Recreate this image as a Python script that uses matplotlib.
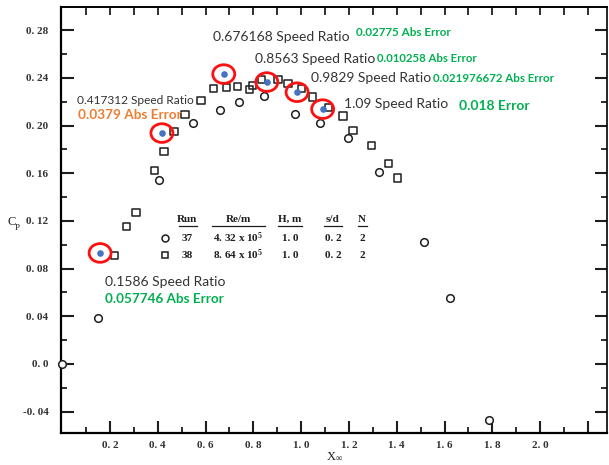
import numpy as np
import matplotlib
matplotlib.use('Agg')
import matplotlib.pyplot as plt
from matplotlib.lines import Line2D
from matplotlib.path import Path
from matplotlib.transforms import Affine2D

# Measured power coefficient, run 37 (circles) and run 38 (squares)
run37_x = [0.0, 0.150, 0.405, 0.547, 0.660, 0.740, 0.845, 0.974, 1.079, 1.196, 1.326, 1.514, 1.622, 1.787]
run37_cp = [0.0, 0.0386, 0.154, 0.202, 0.213, 0.220, 0.225, 0.2096, 0.202, 0.1895, 0.161, 0.102, 0.055, -0.047]

run38_x = [0.217, 0.271, 0.309, 0.388, 0.426, 0.468, 0.514, 0.581, 0.635, 0.686, 0.732, 0.782, 0.795,
           0.836, 0.903, 0.945, 1.000, 1.046, 1.113, 1.175, 1.217, 1.296, 1.364, 1.405]
run38_cp = [0.0906, 0.115, 0.127, 0.162, 0.178, 0.195, 0.209, 0.221, 0.231, 0.232, 0.233, 0.230, 0.234,
            0.239, 0.239, 0.235, 0.231, 0.224, 0.2155, 0.208, 0.196, 0.183, 0.168, 0.156]

# Model predictions at selected speed ratios
model_ratio = [0.1586, 0.417312, 0.676168, 0.8563, 0.9829, 1.09]
model_cp = [0.0931, 0.1937, 0.2432, 0.2365, 0.228, 0.2138]
model_err = ['0.057746 Abs Error', '0.0379 Abs Error', '0.02775 Abs Error',
             '0.010258 Abs Error', '0.021976672 Abs Error', '0.018 Error']

x_major = [0.2, 0.4, 0.6, 0.8, 1.0, 1.2, 1.4, 1.6, 1.8, 2.0, 2.2]
x_labels = ['0. 2', '0. 4', '0. 6', '0. 8', '1. 0', '1. 2', '1. 4', '1. 6', '1. 8', '2. 0', '']
y_major = [-0.04, 0.0, 0.04, 0.08, 0.12, 0.16, 0.20, 0.24, 0.28]
y_labels = ['-0. 04', '0. 0', '0. 04', '0. 08', '0. 12', '0. 16', '0. 20', '0. 24', '0. 28']

table_cols = ['Run', 'Re/m', 'H, m', 's/d', 'N']
table_rows = [['37', '4. 32 x 10$^5$', '1. 0', '0. 2', '2'],
              ['38', '8. 64 x 10$^5$', '1. 0', '0. 2', '2']]

plt.rcParams['mathtext.fontset'] = 'custom'
plt.rcParams['mathtext.rm'] = 'Liberation Serif:bold'
plt.rcParams['mathtext.it'] = 'Liberation Serif'

W, H = 609, 465
ink = '#1e1e1e'
serif = 'Liberation Serif'
sans = 'Lato'


def px(x, y):
    return x / W, 1 - y / H


fig = plt.figure(figsize=(W / 100, H / 100), dpi=100)
ax = fig.add_axes([61 / W, 1 - 433 / H, 546 / W, 426 / H])
ax.set_xlim(-0.005, 2.28)
ax.set_ylim(-0.058, 0.2995)

ax.scatter(run38_x, run38_cp, marker='s', s=26, facecolors='none', edgecolors=ink, linewidths=1.1, zorder=3)
ax.scatter(run37_x, run37_cp, marker='o', s=30, facecolors='white', edgecolors=ink, linewidths=1.1,
           zorder=4, clip_on=False)

# slightly flattened ring around each prediction
ring = Path.unit_circle().transformed(Affine2D().scale(1.0, 0.85))
ax.scatter(model_ratio, model_cp, marker='o', s=14, color='#4472c4', zorder=5)
ax.scatter(model_ratio, model_cp, marker=ring, s=250, facecolors='none', edgecolors='#ff1010',
           linewidths=2.0, zorder=5)

# ticks
ax.set_xticks(x_major)
ax.set_xticklabels(x_labels)
ax.set_xticks(np.arange(0.1, 2.25, 0.2), minor=True)
ax.set_yticks(y_major)
ax.set_yticklabels(y_labels)
ax.set_yticks(np.arange(-0.02, 0.29, 0.04), minor=True)
ax.tick_params(which='major', direction='in', length=9, width=1.5, right=True, color=ink)
ax.tick_params(which='minor', direction='in', length=4.5, width=1.3, right=True, color=ink)
ax.tick_params(axis='y', which='major', pad=9)
ax.tick_params(axis='x', which='major', pad=6)
for lab in ax.get_xticklabels() + ax.get_yticklabels():
    lab.set_fontfamily(serif)
    lab.set_fontsize(8)
    lab.set_fontweight('bold')
    lab.set_color('#333333')

top = ax.secondary_xaxis('top')
top.set_xticks(np.arange(0.1, 2.25, 0.1))
top.set_xticklabels([])
top.tick_params(direction='in', length=6, width=1.3, color=ink)

for side in ['left', 'bottom']:
    ax.spines[side].set_linewidth(1.6)
for side in ['top', 'right']:
    ax.spines[side].set_linewidth(1.2)
top.spines['top'].set_linewidth(1.2)

# axis titles
fig.text(*px(8, 222), 'C', fontfamily=serif, fontsize=9, color=ink, va='center')
fig.text(*px(15, 228), 'P', fontfamily=serif, fontsize=6.5, color=ink, va='center')
fig.text(*px(326, 456), r'X$_\infty$', fontfamily=serif, fontsize=9, color=ink, va='center')

# run table
col_x = [187, 238, 290, 333, 362]
underline = [(179, 197), (212, 265), (278, 302), (324, 342), (358, 367)]
for cx, name, (u0, u1) in zip(col_x, table_cols, underline):
    fig.text(*px(cx, 219), name, fontfamily=serif, fontsize=8, fontweight='bold', color=ink,
             ha='center', va='center')
    fig.add_artist(Line2D([u0 / W, u1 / W], [1 - 226 / H] * 2, color=ink, lw=0.9,
                          transform=fig.transFigure))
for ry, row, mk in zip([238, 255], table_rows, ['o', 's']):
    fig.add_artist(Line2D([165 / W], [1 - ry / H], marker=mk, ms=5, mfc='none', mec=ink, mew=1.1,
                          transform=fig.transFigure))
    for cx, val in zip(col_x, row):
        fig.text(*px(cx, ry), val, fontfamily=serif, fontsize=8, fontweight='bold', color=ink,
                 ha='center', va='center')

# annotations: (ratio label pos, ratio size, error label pos, error size, error colour)
notes = [
    ((105, 282), 10.0, (105, 299), 9.7, '#00b050'),
    ((77, 101), 8.6, (78, 115), 9.8, '#ed7d31'),
    ((213, 37), 10.0, (356, 33), 8.4, '#00b050'),
    ((255, 59), 10.0, (377, 58), 8.2, '#00b050'),
    ((311, 78), 10.0, (433, 78), 8.3, '#00b050'),
    ((344, 104), 10.0, (459, 106), 10.0, '#00b050'),
]
for r, err, (p1, s1, p2, s2, c2) in zip(model_ratio, model_err, notes):
    fig.text(*px(*p1), f'{r} Speed Ratio', fontfamily=sans, fontsize=s1, color='#333333', va='center')
    fig.text(*px(*p2), err, fontfamily=sans, fontsize=s2, fontweight='bold', color=c2, va='center')

fig.savefig('out.png', dpi=100)
